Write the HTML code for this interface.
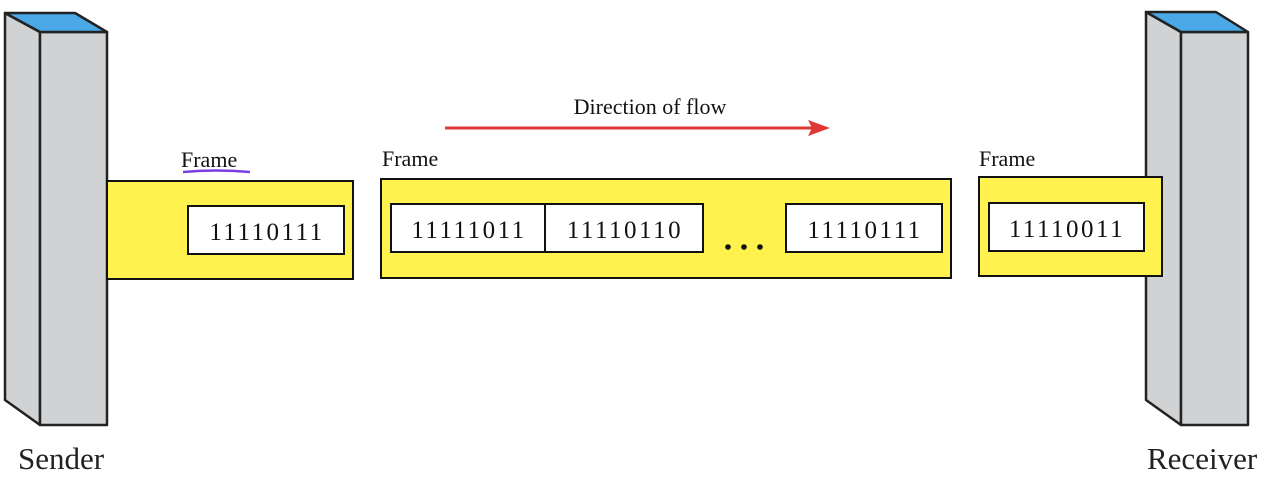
<!DOCTYPE html>
<html><head><style>body{margin:0;background:#fff}</style></head><body>
<svg width="1280" height="480" xmlns="http://www.w3.org/2000/svg" font-family="Liberation Serif, serif">
<g stroke="#222" stroke-width="2.5" stroke-linejoin="round">
<!-- sender -->
<polygon points="5,13 40,32 40,425 5,400" fill="#d1d2d4"/>
<polygon points="40,32 107,32 107,425 40,425" fill="#d1d2d4"/>
<polygon points="5,13 75,13 107,32 40,32" fill="#4aa8e6"/>
<!-- receiver -->
<polygon points="1146,12 1181,32 1181,425 1146,400" fill="#d1d2d4"/>
<polygon points="1181,32 1248,32 1248,425 1181,425" fill="#d1d2d4"/>
<polygon points="1146,12 1216,12 1248,32 1181,32" fill="#4aa8e6"/>
</g>
<g stroke="#111" stroke-width="2">
<rect x="107" y="181" width="246" height="98" fill="#fff24f"/>
<rect x="188" y="206" width="156" height="48" fill="#fff"/>
<rect x="381" y="179" width="570" height="99" fill="#fff24f"/>
<rect x="391" y="204" width="154" height="48" fill="#fff"/>
<rect x="545" y="204" width="158" height="48" fill="#fff"/>
<rect x="786" y="204" width="156" height="48" fill="#fff"/>
<rect x="979" y="177" width="183" height="99" fill="#fff24f"/>
<rect x="989" y="203" width="155" height="48" fill="#fff"/>
</g>
<g font-size="25" fill="#111" text-anchor="middle" letter-spacing="2.5">
<text x="267" y="240">11110111</text>
<text x="469" y="238">11111011</text>
<text x="625" y="238">11110110</text>
<text x="865" y="238">11110111</text>
<text x="1067" y="237">11110011</text>
</g>
<g fill="#111"><circle cx="728" cy="247" r="2.8"/><circle cx="744" cy="247" r="2.8"/><circle cx="760" cy="247" r="2.8"/></g>
<g font-size="22" fill="#111">
<text x="181" y="167">Frame</text>
<text x="382" y="166">Frame</text>
<text x="979" y="166">Frame</text>
<text x="650" y="114" text-anchor="middle">Direction of flow</text>
</g>
<path d="M183,172 Q216,169 250,172" stroke="#7a3fe0" stroke-width="2.5" fill="none"/>
<line x1="445" y1="128" x2="812" y2="128" stroke="#dd3a35" stroke-width="3"/>
<polygon points="830,128 808,120 812,128 808,136" fill="#dd3a35"/>
<g font-size="31" fill="#222">
<text x="18" y="469">Sender</text>
<text x="1147" y="469">Receiver</text>
</g>
</svg>
</body></html>
